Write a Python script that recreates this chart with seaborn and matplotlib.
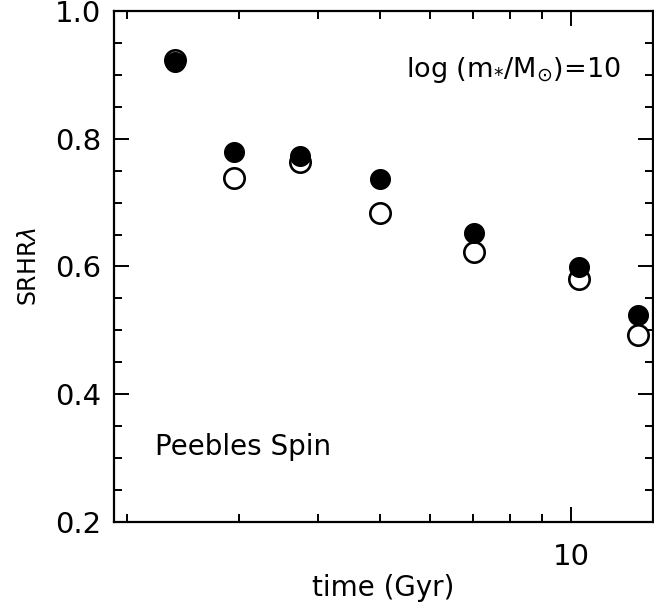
import matplotlib
matplotlib.use("Agg")
import matplotlib.pyplot as plt
import matplotlib.ticker as mticker
import seaborn as sns
import pandas as pd

# data
time_gyr = [2.38, 2.94, 3.74, 5.0, 7.03, 10.3, 12.76]
srhr_filled = [0.920, 0.779, 0.773, 0.737, 0.652, 0.599, 0.524]
srhr_open = [0.923, 0.738, 0.763, 0.684, 0.623, 0.580, 0.493]

sns.set_theme(style="white")
plt.rcParams['font.family'] = ['DejaVu Sans']
plt.rcParams['mathtext.fontset'] = 'dejavusans'
plt.rcParams['text.color'] = 'black'
plt.rcParams['axes.labelcolor'] = 'black'
plt.rcParams['xtick.color'] = 'black'
plt.rcParams['ytick.color'] = 'black'

df = pd.DataFrame({"time": time_gyr, "filled": srhr_filled, "open": srhr_open})

fig = plt.figure(figsize=(6.54, 6.07), dpi=100)
ax = fig.add_axes([0.1743, 0.140, 0.8242, 0.842])

sns.scatterplot(data=df, x="time", y="open", ax=ax, s=215, marker="o",
                facecolor="white", edgecolor="black", linewidth=1.9, zorder=3)
sns.scatterplot(data=df, x="time", y="filled", ax=ax, s=200, marker="o",
                color="black", edgecolor="black", linewidth=1.0, zorder=4)

ax.set_xscale("log")
ax.set_xlim(1.906, 13.46)
ax.set_ylim(0.2, 1.0)
ax.xaxis.set_major_locator(mticker.LogLocator(base=10, subs=(1.0,)))
ax.xaxis.set_major_formatter(mticker.FuncFormatter(lambda v, p: f"{v:g}"))
ax.xaxis.set_minor_locator(mticker.LogLocator(base=10, subs=range(2, 10)))
ax.xaxis.set_minor_formatter(mticker.NullFormatter())
ax.yaxis.set_major_locator(mticker.MultipleLocator(0.2))
ax.yaxis.set_minor_locator(mticker.MultipleLocator(0.05))
ax.yaxis.set_major_formatter(mticker.FormatStrFormatter("%.1f"))

ax.tick_params(which="both", direction="in", top=True, right=True, bottom=True, left=True,
               color="black", width=1.4)
ax.tick_params(which="major", length=11, labelsize=21, pad=9)
ax.tick_params(axis="x", which="major", pad=15)
ax.tick_params(which="minor", length=6)
for sp in ax.spines.values():
    sp.set_color("black")
    sp.set_linewidth(1.6)

ax.set_xlabel("time (Gyr)", fontsize=20, labelpad=2)
ax.set_ylabel(r"SRHR$\lambda$", fontsize=17, labelpad=10)

ax.text(0.94, 0.885, r"log (m$_{*}$/M$_{\odot}$)=10", transform=ax.transAxes,
        ha="right", va="center", fontsize=19.5)
ax.text(0.076, 0.146, "Peebles Spin", transform=ax.transAxes,
        ha="left", va="center", fontsize=20)

fig.savefig("out.png", dpi=100)
